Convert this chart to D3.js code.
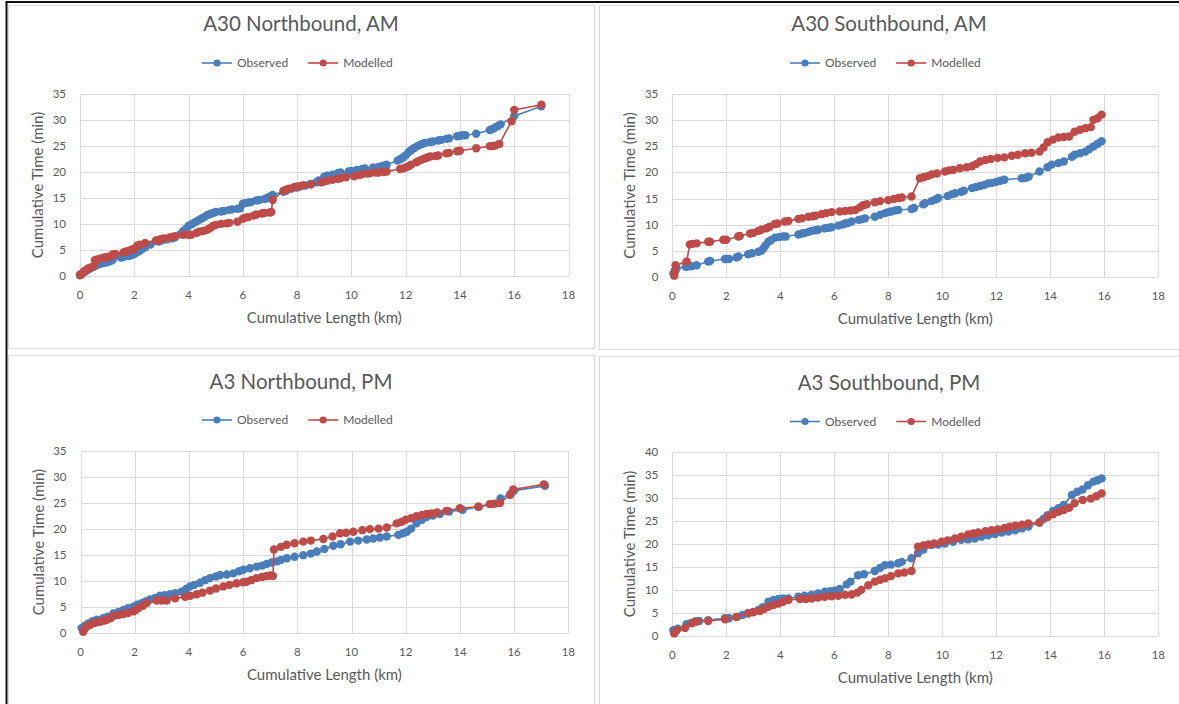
<!DOCTYPE html>
<meta charset="utf-8">
<script src="https://d3js.org/d3.v7.min.js"></script>
<style>
  body { margin: 0; background: #fff; }
  svg { display: block; font-family: Lato, "Open Sans", sans-serif; }
  .grid line { stroke: #d9d9d9; stroke-width: 1; shape-rendering: crispEdges; }
  .tick-label { fill: #595959; font-size: 11.5px; }
  .title { fill: #595959; font-size: 20.5px; }
  .axis-title { fill: #595959; font-size: 15px; }
  .legend text { fill: #595959; font-size: 12px; }
</style>
<body>
<div id="chart"></div>
<script>

var titles = ["A30 Northbound, AM", "A30 Southbound, AM", "A3 Northbound, PM", "A3 Southbound, PM"];
var seriesNames = ["Observed", "Modelled"];
var xTicks = [0, 2, 4, 6, 8, 10, 12, 14, 16, 18];
var yTicks35 = [0, 5, 10, 15, 20, 25, 30, 35];
var yTicks40 = [0, 5, 10, 15, 20, 25, 30, 35, 40];

// [cumulative length km, cumulative time min]
var a30nObs = [[0,0.2],[0.05,0.3],[0.1,0.5],[0.15,0.7],[0.25,1.0],[0.3,1.2],[0.4,1.5],[0.5,1.7],[0.6,2.0],[0.7,2.2],[0.8,2.4],[0.9,2.5],[1.0,2.6],[1.1,2.8],[1.2,3.0],[1.5,3.5],[1.6,3.6],[1.8,3.8],[1.9,4.0],[2.0,4.2],[2.1,4.5],[2.2,4.8],[2.3,5.2],[2.4,5.5],[2.6,6.0],[2.9,6.6],[3.0,6.8],[3.2,7.0],[3.4,7.2],[3.5,7.4],[3.7,8.0],[3.8,8.6],[3.9,9.0],[4.0,9.6],[4.1,9.9],[4.2,10.2],[4.3,10.5],[4.4,10.8],[4.5,11.1],[4.6,11.4],[4.7,11.7],[4.8,11.9],[4.9,12.1],[5.0,12.3],[5.2,12.4],[5.3,12.5],[5.5,12.7],[5.6,12.8],[5.8,12.9],[5.9,13.0],[6.0,13.9],[6.1,14.0],[6.2,14.1],[6.3,14.2],[6.5,14.5],[6.6,14.6],[6.8,14.8],[6.9,15.0],[7.0,15.3],[7.1,15.6],[7.5,16.2],[7.6,16.4],[7.8,16.8],[8.0,17.0],[8.1,17.2],[8.3,17.4],[8.5,17.7],[8.7,18.0],[8.8,18.4],[9.0,19.1],[9.1,19.3],[9.3,19.5],[9.5,19.8],[9.6,19.9],[9.9,20.1],[10.0,20.2],[10.2,20.4],[10.4,20.6],[10.5,20.7],[10.8,20.9],[11.0,21.0],[11.1,21.1],[11.2,21.2],[11.3,21.4],[11.7,22.2],[11.8,22.5],[11.9,22.8],[12.0,23.2],[12.1,23.8],[12.2,24.2],[12.3,24.6],[12.4,24.9],[12.5,25.2],[12.6,25.4],[12.7,25.6],[12.9,25.8],[13.0,25.9],[13.2,26.1],[13.3,26.2],[13.5,26.4],[13.6,26.5],[13.9,26.9],[14.0,27.0],[14.1,27.1],[14.2,27.1],[14.6,27.4],[15.1,28.1],[15.2,28.3],[15.3,28.6],[15.4,28.9],[15.5,29.2],[16.0,30.8],[17.0,32.7]];
var a30nMod = [[0,0.1],[0.05,0.3],[0.1,0.5],[0.15,0.8],[0.2,1.0],[0.3,1.4],[0.4,1.6],[0.5,1.8],[0.55,3.0],[0.6,3.1],[0.7,3.2],[0.8,3.4],[0.9,3.5],[1.0,3.6],[1.1,3.7],[1.2,4.1],[1.3,4.2],[1.6,4.5],[1.7,4.7],[1.8,4.8],[1.9,5.0],[2.0,5.2],[2.1,5.8],[2.2,6.0],[2.4,6.3],[2.8,6.8],[2.9,6.9],[3.0,7.1],[3.1,7.2],[3.3,7.4],[3.4,7.5],[3.5,7.6],[3.8,7.9],[4.0,7.9],[4.1,7.9],[4.3,8.3],[4.4,8.5],[4.5,8.6],[4.6,8.7],[4.7,8.9],[4.8,9.2],[4.9,9.6],[5.0,9.8],[5.2,10.0],[5.4,10.1],[5.5,10.2],[5.8,10.4],[6.0,11.0],[6.1,11.2],[6.2,11.3],[6.4,11.6],[6.5,11.8],[6.7,12.0],[6.8,12.1],[7.0,12.2],[7.05,12.3],[7.1,14.6],[7.5,16.4],[7.6,16.6],[7.7,16.8],[7.9,17.1],[8.0,17.2],[8.2,17.4],[8.5,17.6],[8.9,18.0],[9.0,18.2],[9.1,18.3],[9.3,18.5],[9.5,18.7],[9.6,18.8],[9.8,19.0],[10.1,19.2],[10.3,19.4],[10.4,19.6],[10.6,19.7],[10.7,19.8],[10.9,19.9],[11.0,19.9],[11.2,20.0],[11.3,20.1],[11.8,20.6],[11.9,20.7],[12.0,20.9],[12.1,21.1],[12.2,21.4],[12.4,21.9],[12.5,22.2],[12.6,22.4],[12.7,22.6],[12.8,22.8],[12.9,23.0],[13.1,23.1],[13.2,23.2],[13.5,23.6],[13.6,23.7],[13.9,24.0],[14.0,24.1],[14.6,24.6],[15.1,25.0],[15.2,25.0],[15.3,25.1],[15.45,25.4],[15.9,29.8],[16.0,32.0],[17.0,33.0]];

var a30sObs = [[0.04,0.6],[0.1,1.2],[0.16,1.6],[0.5,1.9],[0.53,1.9],[0.7,2.0],[0.9,2.2],[1.33,2.9],[1.4,3.0],[1.95,3.4],[2.0,3.4],[2.1,3.4],[2.38,3.7],[2.45,3.9],[2.81,4.3],[2.95,4.5],[3.19,4.8],[3.3,5.0],[3.37,5.4],[3.45,6.0],[3.56,6.7],[3.65,7.0],[3.8,7.5],[3.95,7.6],[4.1,7.7],[4.2,7.7],[4.67,8.1],[4.8,8.3],[4.9,8.4],[5.05,8.6],[5.16,8.8],[5.3,8.9],[5.4,9.0],[5.65,9.3],[5.8,9.4],[5.9,9.5],[6.15,9.8],[6.3,10.0],[6.4,10.2],[6.5,10.3],[6.64,10.6],[6.9,10.9],[7.0,11.0],[7.14,11.2],[7.5,11.5],[7.7,11.9],[7.88,12.2],[8.0,12.4],[8.1,12.5],[8.25,12.7],[8.37,12.8],[8.86,13.0],[8.95,13.2],[9.3,13.9],[9.36,14.1],[9.6,14.5],[9.75,14.8],[9.85,15.1],[10.2,15.5],[10.35,15.8],[10.47,16.0],[10.7,16.3],[10.8,16.5],[11.1,17.0],[11.25,17.2],[11.4,17.4],[11.55,17.6],[11.7,17.9],[11.85,18.0],[12.0,18.2],[12.15,18.4],[12.3,18.6],[12.94,18.9],[13.1,19.0],[13.2,19.2],[13.6,20.2],[13.9,21.0],[14.05,21.5],[14.3,21.8],[14.5,22.1],[14.8,23.0],[14.9,23.4],[15.1,23.7],[15.3,24.0],[15.45,24.5],[15.6,25.0],[15.75,25.5],[15.9,26.0]];
var a30sMod = [[0.07,0.2],[0.1,1.0],[0.12,2.2],[0.53,2.9],[0.65,6.2],[0.75,6.3],[0.9,6.4],[1.33,6.7],[1.4,6.7],[1.89,7.1],[2.0,7.1],[2.44,7.7],[2.5,7.8],[2.88,8.3],[3.0,8.4],[3.19,8.8],[3.3,9.0],[3.49,9.3],[3.6,9.6],[3.8,10.1],[3.9,10.2],[4.17,10.6],[4.3,10.7],[4.67,11.1],[4.8,11.2],[5.04,11.5],[5.2,11.6],[5.3,11.7],[5.53,12.0],[5.7,12.2],[5.9,12.4],[6.2,12.5],[6.4,12.6],[6.6,12.7],[6.77,12.8],[6.95,13.3],[7.07,13.7],[7.2,13.9],[7.5,14.3],[7.7,14.5],[8.0,14.7],[8.2,14.9],[8.37,15.1],[8.5,15.2],[8.86,15.4],[9.17,18.9],[9.3,19.1],[9.45,19.3],[9.6,19.6],[9.8,19.8],[10.1,20.2],[10.25,20.4],[10.4,20.5],[10.65,20.8],[10.9,21.0],[11.1,21.2],[11.25,21.6],[11.4,22.1],[11.6,22.4],[11.8,22.6],[12.05,22.8],[12.3,22.9],[12.57,23.2],[12.8,23.4],[13.07,23.7],[13.3,23.8],[13.6,24.0],[13.75,24.8],[13.9,25.8],[14.1,26.3],[14.3,26.7],[14.5,26.8],[14.7,26.9],[14.9,27.8],[15.1,28.2],[15.3,28.5],[15.5,28.7],[15.6,30.1],[15.75,30.4],[15.9,31.1]];

var a3nObs = [[0.04,1.0],[0.15,1.4],[0.29,1.9],[0.45,2.3],[0.6,2.6],[0.84,2.9],[1.0,3.2],[1.21,3.8],[1.4,4.1],[1.58,4.5],[1.75,4.8],[1.95,5.1],[2.1,5.5],[2.26,5.8],[2.4,6.1],[2.56,6.5],[2.75,6.8],[2.93,7.2],[3.1,7.3],[3.3,7.5],[3.5,7.7],[3.73,8.0],[3.9,8.5],[4.04,9.0],[4.2,9.3],[4.41,9.7],[4.6,10.2],[4.78,10.6],[5.0,10.9],[5.15,11.2],[5.4,11.3],[5.64,11.5],[5.85,11.9],[6.01,12.2],[6.25,12.5],[6.5,12.8],[6.7,13.0],[6.87,13.3],[7.05,13.6],[7.24,13.8],[7.4,14.1],[7.61,14.4],[7.9,14.7],[8.22,15.0],[8.5,15.3],[8.72,15.7],[9.0,16.2],[9.33,16.8],[9.6,17.1],[9.95,17.6],[10.25,17.8],[10.56,18.0],[10.8,18.2],[11.05,18.4],[11.3,18.6],[11.73,18.9],[11.9,19.2],[12.04,19.5],[12.2,20.1],[12.4,21.1],[12.6,21.8],[12.77,22.3],[13.0,22.6],[13.26,22.9],[13.6,23.4],[14.1,23.7],[14.7,24.3],[15.2,24.8],[15.5,25.9],[15.9,26.9],[16.0,27.4],[17.14,28.3]];
var a3nMod = [[0.1,0.3],[0.15,0.8],[0.23,1.3],[0.35,1.6],[0.47,1.9],[0.6,2.1],[0.72,2.2],[0.85,2.4],[0.97,2.6],[1.1,2.9],[1.21,3.3],[1.4,3.5],[1.58,3.7],[1.75,3.9],[1.95,4.2],[2.05,4.5],[2.13,4.8],[2.3,5.3],[2.44,5.8],[2.81,6.3],[3.0,6.3],[3.18,6.3],[3.49,6.7],[3.86,7.0],[4.05,7.2],[4.29,7.5],[4.5,7.8],[4.78,8.2],[5.0,8.6],[5.27,9.0],[5.5,9.3],[5.76,9.6],[6.0,9.8],[6.13,9.9],[6.3,10.2],[6.5,10.6],[6.7,10.8],[6.87,11.0],[7.0,11.1],[7.1,11.0],[7.14,16.1],[7.4,16.6],[7.61,17.0],[7.9,17.3],[8.22,17.6],[8.5,17.8],[8.96,18.1],[9.3,18.6],[9.58,19.2],[9.8,19.3],[10.07,19.5],[10.4,19.8],[10.68,20.0],[11.0,20.1],[11.3,20.3],[11.67,21.1],[11.85,21.4],[12.0,21.8],[12.2,22.1],[12.4,22.5],[12.6,22.7],[12.77,22.9],[12.95,23.0],[13.15,23.2],[13.5,23.5],[14.0,24.0],[14.68,24.3],[15.1,24.8],[15.3,24.9],[15.48,25.0],[15.85,26.6],[15.97,27.6],[17.1,28.6]];

var a3sObs = [[0.04,1.2],[0.2,1.5],[0.53,2.5],[0.7,2.8],[0.84,3.1],[1.0,3.2],[1.33,3.4],[1.95,3.8],[2.1,3.8],[2.38,4.1],[2.6,4.5],[2.81,4.9],[3.0,5.2],[3.19,5.6],[3.35,6.2],[3.56,7.4],[3.75,7.8],[3.93,8.0],[4.1,8.1],[4.3,8.1],[4.67,8.5],[4.9,8.7],[5.16,8.9],[5.4,9.2],[5.65,9.6],[5.85,9.7],[6.02,9.8],[6.2,10.2],[6.46,11.2],[6.6,11.8],[6.88,13.2],[7.1,13.4],[7.5,14.1],[7.7,14.8],[7.88,15.4],[8.1,15.5],[8.37,15.8],[8.5,16.1],[8.86,16.9],[9.1,18.0],[9.3,18.8],[9.6,19.8],[9.85,19.9],[10.1,20.1],[10.4,20.5],[10.7,20.9],[10.95,21.0],[11.2,21.2],[11.45,21.6],[11.7,21.9],[11.95,22.2],[12.2,22.5],[12.45,22.7],[12.7,23.0],[12.95,23.4],[13.19,23.8],[13.6,24.7],[13.75,25.5],[13.9,26.3],[14.1,27.2],[14.3,27.8],[14.5,28.5],[14.8,30.7],[15.0,31.4],[15.2,31.9],[15.4,32.8],[15.6,33.6],[15.75,33.9],[15.9,34.3]];
var a3sMod = [[0.07,0.5],[0.16,1.2],[0.47,1.7],[0.72,2.7],[0.9,3.1],[1.33,3.2],[1.95,3.6],[2.38,4.1],[2.81,4.9],[3.0,5.1],[3.24,5.4],[3.4,5.8],[3.56,6.3],[3.75,6.7],[3.93,7.0],[4.1,7.4],[4.3,7.8],[4.73,8.0],[4.95,8.0],[5.16,8.1],[5.4,8.3],[5.65,8.5],[5.9,8.6],[6.15,8.7],[6.4,8.9],[6.64,9.0],[6.85,9.4],[7.0,10.0],[7.26,11.0],[7.5,11.8],[7.7,12.2],[7.88,12.5],[8.1,13.0],[8.37,13.6],[8.6,13.8],[8.86,14.1],[9.1,19.4],[9.3,19.7],[9.48,19.9],[9.7,20.1],[9.98,20.5],[10.2,20.8],[10.47,21.2],[10.7,21.6],[10.96,22.1],[11.15,22.3],[11.33,22.5],[11.6,22.8],[11.83,23.0],[12.05,23.2],[12.3,23.5],[12.5,23.8],[12.7,24.0],[12.95,24.2],[13.19,24.5],[13.6,24.7],[13.9,25.9],[14.1,26.5],[14.3,27.0],[14.5,27.4],[14.7,27.9],[14.9,28.9],[15.2,29.6],[15.5,29.9],[15.7,30.4],[15.9,31.0]];

var colors = ["#4a7ebb", "#be4b48"];

var panels = [
  {box: [8, 5, 586, 343],   plot: [80, 94.3, 568.5, 275.7],   yTicks: yTicks35, series: [a30nObs, a30nMod], titleY: 31, legendY: 63},
  {box: [599, 5, 580, 344], plot: [672.3, 94.3, 1158.3, 276.7], yTicks: yTicks35, series: [a30sObs, a30sMod], titleY: 31, legendY: 63},
  {box: [8, 355, 586, 349], plot: [80.5, 451, 568.3, 633.3],  yTicks: yTicks35, series: [a3nObs, a3nMod], titleY: 389, legendY: 420},
  {box: [599, 356, 580, 348], plot: [672.3, 452.3, 1158.3, 635.7], yTicks: yTicks40, series: [a3sObs, a3sMod], titleY: 390, legendY: 421.5}
];

var svg = d3.select("#chart").append("svg")
  .attr("width", 1179)
  .attr("height", 704);

svg.append("rect").attr("width", 1179).attr("height", 704).attr("fill", "#fff");

panels.forEach(function(p, i) {
  var g = svg.append("g");
  var b = p.box;
  g.append("rect")
    .attr("x", b[0] + 0.5).attr("y", b[1] + 0.5)
    .attr("width", b[2]).attr("height", b[3])
    .attr("fill", "#fff").attr("stroke", "#d9d9d9");

  var x = d3.scaleLinear().domain([0, 18]).range([p.plot[0], p.plot[2]]);
  var yMax = p.yTicks[p.yTicks.length - 1];
  var y = d3.scaleLinear().domain([0, yMax]).range([p.plot[3], p.plot[1]]);

  // gridlines
  var grid = g.append("g").attr("class", "grid");
  grid.selectAll(".h").data(p.yTicks).enter().append("line")
    .attr("x1", x(0)).attr("x2", x(18))
    .attr("y1", function(d) { return Math.round(y(d)) + 0.5; })
    .attr("y2", function(d) { return Math.round(y(d)) + 0.5; });
  grid.selectAll(".v").data(xTicks).enter().append("line")
    .attr("y1", y(0)).attr("y2", y(yMax))
    .attr("x1", function(d) { return Math.round(x(d)) + 0.5; })
    .attr("x2", function(d) { return Math.round(x(d)) + 0.5; });

  // tick labels
  g.selectAll(".yl").data(p.yTicks).enter().append("text")
    .attr("class", "tick-label")
    .attr("x", x(0) - 14).attr("y", function(d) { return y(d) + 4; })
    .attr("text-anchor", "end")
    .text(function(d) { return d; });
  g.selectAll(".xl").data(xTicks).enter().append("text")
    .attr("class", "tick-label")
    .attr("x", function(d) { return x(d); }).attr("y", y(0) + 23)
    .attr("text-anchor", "middle")
    .text(function(d) { return d; });

  // axis titles
  var cx = (p.plot[0] + p.plot[2]) / 2, cy = (p.plot[1] + p.plot[3]) / 2;
  g.append("text").attr("class", "axis-title")
    .attr("x", cx).attr("y", y(0) + 47)
    .attr("text-anchor", "middle")
    .text("Cumulative Length (km)");
  g.append("text").attr("class", "axis-title")
    .attr("transform", "translate(" + (x(0) - 37) + "," + cy + ") rotate(-90)")
    .attr("text-anchor", "middle")
    .text("Cumulative Time (min)");

  // title
  var titleX = b[0] + b[2] / 2;
  g.append("text").attr("class", "title")
    .attr("x", titleX).attr("y", p.titleY)
    .attr("text-anchor", "middle")
    .text(titles[i]);

  // series
  var line = d3.line().x(function(d) { return x(d[0]); }).y(function(d) { return y(d[1]); });
  p.series.forEach(function(pts, k) {
    g.append("path").datum(pts)
      .attr("fill", "none").attr("stroke", colors[k]).attr("stroke-width", 1.6)
      .attr("d", line);
    g.selectAll(null).data(pts).enter().append("circle")
      .attr("cx", function(d) { return x(d[0]); })
      .attr("cy", function(d) { return y(d[1]); })
      .attr("r", 4.2)
      .attr("fill", colors[k]);
  });

  // legend
  var leg = g.append("g").attr("class", "legend");
  var lx = titleX - 99;
  seriesNames.forEach(function(name, k) {
    var item = leg.append("g").attr("transform", "translate(" + lx + "," + p.legendY + ")");
    item.append("line").attr("x1", 0).attr("x2", 30).attr("y1", 0).attr("y2", 0)
      .attr("stroke", colors[k]).attr("stroke-width", 1.6);
    item.append("circle").attr("cx", 15).attr("cy", 0).attr("r", 3.6).attr("fill", colors[k]);
    var t = item.append("text").attr("x", 35).attr("y", 4).text(name);
    lx += 35 + t.node().getComputedTextLength() + 20;
  });
});

// dark frame edges of the screenshot
svg.append("line").attr("x1", 6).attr("x2", 1179).attr("y1", 2).attr("y2", 2)
  .attr("stroke", "#111").attr("stroke-width", 2);
svg.append("line").attr("x1", 6.5).attr("x2", 6.5).attr("y1", 1).attr("y2", 704)
  .attr("stroke", "#111").attr("stroke-width", 2);

</script>
</body>
